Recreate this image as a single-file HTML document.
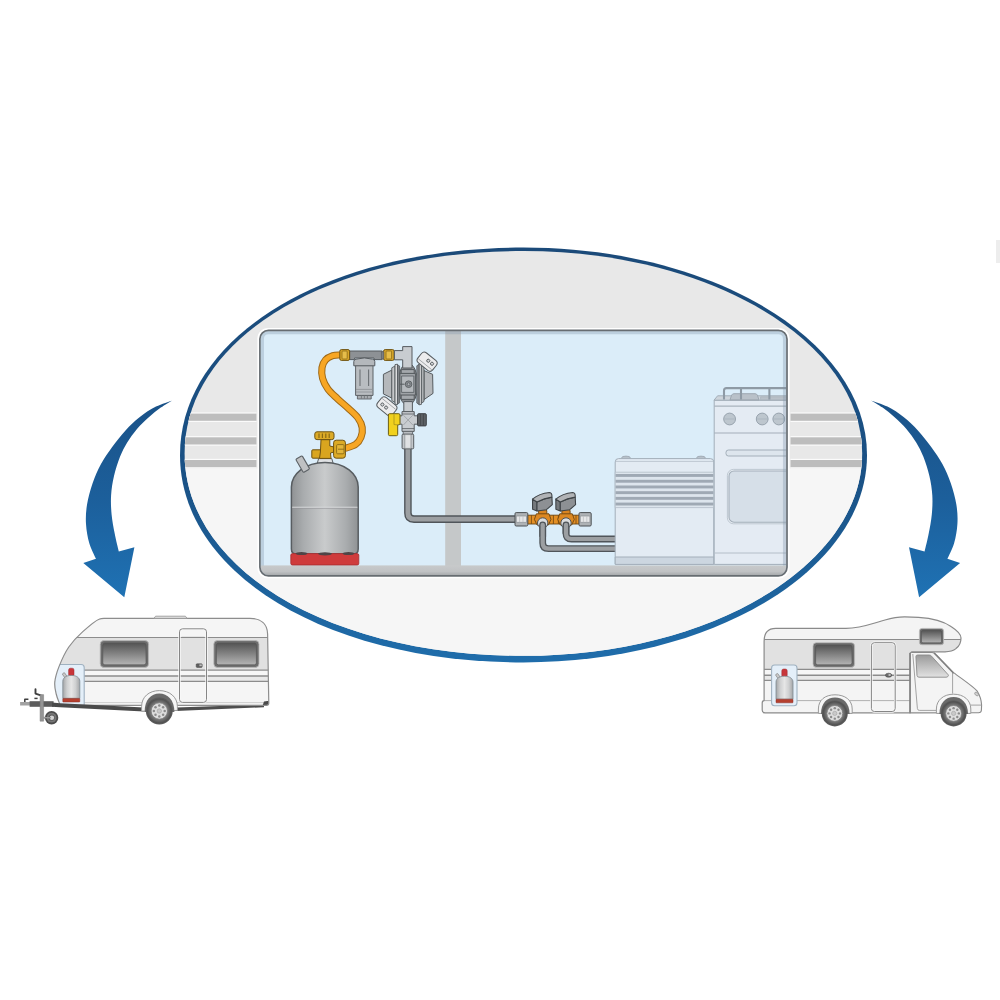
<!DOCTYPE html>
<html>
<head>
<meta charset="utf-8">
<title>Gas installation diagram</title>
<style>
html,body{margin:0;padding:0;background:#ffffff;font-family:"Liberation Sans",sans-serif;}
body{width:1000px;height:1000px;overflow:hidden;}
svg{display:block;}
</style>
</head>
<body>
<svg width="1000" height="1000" viewBox="0 0 1000 1000">
<defs>
  <linearGradient id="gRing" x1="0" y1="0" x2="0" y2="1">
    <stop offset="0" stop-color="#1b4a79"/>
    <stop offset="0.55" stop-color="#1a5185"/>
    <stop offset="1" stop-color="#1f6dab"/>
  </linearGradient>
  <linearGradient id="gArrow" x1="0" y1="0" x2="0" y2="1">
    <stop offset="0" stop-color="#1a5288"/>
    <stop offset="0.5" stop-color="#1c5f9b"/>
    <stop offset="1" stop-color="#1f72b4"/>
  </linearGradient>
  <linearGradient id="gWall" x1="0" y1="0" x2="0" y2="1">
    <stop offset="0" stop-color="#e6e6e6"/>
    <stop offset="0.36" stop-color="#e9e9e9"/>
    <stop offset="0.56" stop-color="#f5f5f5"/>
    <stop offset="1" stop-color="#f8f8f8"/>
  </linearGradient>
  <linearGradient id="gFloor" x1="0" y1="0" x2="0" y2="1">
    <stop offset="0" stop-color="#c8cacb"/>
    <stop offset="0.55" stop-color="#c0c2c4"/>
    <stop offset="1" stop-color="#9fa2a5"/>
  </linearGradient>
  <linearGradient id="gCyl" x1="0" y1="0" x2="1" y2="0">
    <stop offset="0" stop-color="#8f9294"/>
    <stop offset="0.18" stop-color="#a9acae"/>
    <stop offset="0.5" stop-color="#c9cbcc"/>
    <stop offset="0.82" stop-color="#a9acae"/>
    <stop offset="1" stop-color="#8f9294"/>
  </linearGradient>
  <linearGradient id="gCylS" x1="0" y1="0" x2="1" y2="0">
    <stop offset="0" stop-color="#a4a6a8"/>
    <stop offset="0.25" stop-color="#cfd0d1"/>
    <stop offset="0.5" stop-color="#e6e6e6"/>
    <stop offset="0.75" stop-color="#cfd0d1"/>
    <stop offset="1" stop-color="#a4a6a8"/>
  </linearGradient>
  <linearGradient id="gWin" x1="0" y1="0" x2="0" y2="1">
    <stop offset="0" stop-color="#555555"/>
    <stop offset="1" stop-color="#b4b4b4"/>
  </linearGradient>
  <linearGradient id="gCabWin" x1="0" y1="0" x2="0" y2="1">
    <stop offset="0" stop-color="#9a9a9a"/>
    <stop offset="1" stop-color="#e2e2e2"/>
  </linearGradient>
  <radialGradient id="gTyre" cx="0.5" cy="0.5" r="0.5">
    <stop offset="0.55" stop-color="#8a8a8a"/>
    <stop offset="0.8" stop-color="#6a6a6a"/>
    <stop offset="1" stop-color="#4e4e4e"/>
  </radialGradient>
  <clipPath id="clipEll"><path d="M184.60,453.40 C184.60,337.63 329.61,251.00 523.40,251.00 C710.52,251.00 862.20,341.61 862.20,453.40 C862.20,565.19 710.52,655.80 523.40,655.80 C329.61,655.80 184.60,569.17 184.60,453.40 Z"/></clipPath>
  <clipPath id="clipPanel"><rect x="260.7" y="331.1" width="525.5" height="243.9" rx="7.8" ry="7.8"/></clipPath>
</defs>

<!-- faint artefact top right -->
<rect x="996" y="240" width="4" height="23" fill="#ededed"/>

<!-- ===== ELLIPSE ===== -->
<g id="ellipse">
  <path d="M180.00,454.95 C180.00,336.29 327.02,247.50 523.50,247.50 C713.22,247.50 867.00,340.38 867.00,454.95 C867.00,569.52 713.22,662.40 523.50,662.40 C327.02,662.40 180.00,573.61 180.00,454.95 Z" fill="url(#gRing)"/>
  <path d="M184.60,453.40 C184.60,337.63 329.61,251.00 523.40,251.00 C710.52,251.00 862.20,341.61 862.20,453.40 C862.20,565.19 710.52,655.80 523.40,655.80 C329.61,655.80 184.60,569.17 184.60,453.40 Z" fill="#e8e8e8"/>
  <g clip-path="url(#clipEll)">
    <rect x="170" y="468.4" width="710" height="200" fill="#f6f6f6"/>
    <!-- wall stripes -->
    <rect x="170" y="412.4" width="86.5" height="9.6" fill="#fbfbfb"/>
    <rect x="170" y="436.1" width="86.5" height="9.6" fill="#fbfbfb"/>
    <rect x="170" y="458.8" width="86.5" height="9.6" fill="#fbfbfb"/>
    <rect x="170" y="413.6" width="86.5" height="7.2" fill="#bdbdbd"/>
    <rect x="170" y="437.3" width="86.5" height="7.2" fill="#bdbdbd"/>
    <rect x="170" y="460" width="86.5" height="7.2" fill="#bdbdbd"/>
    <rect x="790.5" y="412.4" width="90" height="9.6" fill="#fbfbfb"/>
    <rect x="790.5" y="436.1" width="90" height="9.6" fill="#fbfbfb"/>
    <rect x="790.5" y="458.8" width="90" height="9.6" fill="#fbfbfb"/>
    <rect x="790.5" y="413.6" width="90" height="7.2" fill="#bdbdbd"/>
    <rect x="790.5" y="437.3" width="90" height="7.2" fill="#bdbdbd"/>
    <rect x="790.5" y="460" width="90" height="7.2" fill="#bdbdbd"/>
  </g>
</g>

<!-- ===== PANEL ===== -->
<g id="panel">
  <rect x="257.4" y="327.9" width="532.2" height="250.4" rx="10.6" ry="10.6" fill="#ffffff"/>
  <rect x="259.9" y="330.3" width="527.1" height="245.5" rx="8.6" ry="8.6" fill="#dbedf9"/>
  <g clip-path="url(#clipPanel)">
    <rect x="445.2" y="331" width="15.8" height="236" fill="#c5c8c9"/>
    <rect x="260" y="565.4" width="528" height="11" fill="url(#gFloor)"/>
    <!-- ===== GAS CYLINDER ===== -->
    <g id="cylinder" stroke-linejoin="round">
      <!-- neck -->
      <path d="M317.2,463.5 L318.6,458.6 L331.8,458.6 L333.2,463.5 Z" fill="#dfe1e3" stroke="#5d6266" stroke-width="1"/>
      <!-- body -->
      <path d="M291.4,549 L291.4,487 C291.4,474 305,462.4 325,462.4 C345,462.4 358.2,474 358.2,487 L358.2,549 Q358.2,554 353.2,554 L296.4,554 Q291.4,554 291.4,549 Z" fill="url(#gCyl)" stroke="#585d61" stroke-width="1.5"/>
      <path d="M292.2,507.2 L357.4,507.2" stroke="#dcdee0" stroke-width="1.1" fill="none"/>
      <path d="M292.2,508.3 L357.4,508.3" stroke="#8e9193" stroke-width="0.6" fill="none"/>
      <!-- stub handle (front) -->
      <g transform="rotate(-30 302.7 464.1)">
        <rect x="299" y="456.4" width="7.4" height="15.4" rx="1.2" fill="#bfc1c3" stroke="#5d6266" stroke-width="1.1"/>
      </g>
      <!-- red base -->
      <path d="M290.8,555.2 Q290.8,553.6 292.4,553.6 L357.2,553.6 Q358.8,553.6 358.8,555.2 L358.8,563.4 Q358.8,565 357.2,565 L292.4,565 Q290.8,565 290.8,563.4 Z" fill="#cf3b3c" stroke="#a52c2e" stroke-width="0.8"/>
      <ellipse cx="301.5" cy="553.6" rx="6" ry="1.5" fill="#4f4446"/>
      <ellipse cx="325" cy="553.8" rx="7" ry="1.6" fill="#4f4446"/>
      <ellipse cx="348.5" cy="553.6" rx="6" ry="1.5" fill="#4f4446"/>
    </g>

    <!-- ===== HOSE ===== -->
    <g id="hose" fill="none" stroke-linecap="butt">
      <path d="M340.0,355.0 C338.8,355.1 335.2,354.8 332.8,355.6 C330.4,356.4 327.4,357.8 325.6,359.8 C323.8,361.8 322.5,364.5 322.0,367.6 C321.5,370.7 321.6,374.8 322.6,378.4 C323.6,382.0 325.5,385.8 328.0,389.2 C330.5,392.6 334.2,395.6 337.6,398.8 C341.0,402.0 345.0,405.2 348.4,408.4 C351.8,411.6 355.7,414.8 358.0,418.0 C360.3,421.2 361.7,424.4 362.2,427.6 C362.7,430.8 362.1,434.4 361.0,437.2 C359.9,440.0 358.3,442.5 355.6,444.4 C352.9,446.3 346.8,447.7 345.0,448.4" stroke="#a06a17" stroke-width="7.2"/>
      <path d="M340.0,355.0 C338.8,355.1 335.2,354.8 332.8,355.6 C330.4,356.4 327.4,357.8 325.6,359.8 C323.8,361.8 322.5,364.5 322.0,367.6 C321.5,370.7 321.6,374.8 322.6,378.4 C323.6,382.0 325.5,385.8 328.0,389.2 C330.5,392.6 334.2,395.6 337.6,398.8 C341.0,402.0 345.0,405.2 348.4,408.4 C351.8,411.6 355.7,414.8 358.0,418.0 C360.3,421.2 361.7,424.4 362.2,427.6 C362.7,430.8 362.1,434.4 361.0,437.2 C359.9,440.0 358.3,442.5 355.6,444.4 C352.9,446.3 346.8,447.7 345.0,448.4" stroke="#f7a624" stroke-width="5.2"/>
    </g>

    <!-- ===== CYLINDER VALVE (brass) ===== -->
    <g id="cvalve" stroke="#6f5312" stroke-width="1" stroke-linejoin="round">
      <!-- left outlet -->
      <rect x="311.8" y="449.8" width="11" height="8.4" rx="1" fill="#d9a51f"/>
      <!-- stem -->
      <path d="M321,439.6 L329.8,439.6 L329.8,446 L334,447 L334,452 L330.5,453 L331,458.4 L319.5,458.4 L320.4,452 Z" fill="#d9a51f"/>
      <!-- handwheel -->
      <rect x="314.8" y="431.8" width="19.2" height="7.8" rx="2.2" fill="#dcaa26"/>
      <path d="M319,433.6 L319,438 M322.4,433.6 L322.4,438 M325.8,433.6 L325.8,438 M329.2,433.6 L329.2,438" stroke="#8a6a16" stroke-width="1.2" fill="none"/>
      <!-- nut -->
      <rect x="333.6" y="440.2" width="11.8" height="18" rx="2.6" fill="#dcaa26"/>
      <rect x="336.6" y="444.6" width="7.4" height="9.2" rx="1" fill="#e3b63a" stroke="#8a6a16" stroke-width="0.9"/>
      <path d="M338,449.2 L344,449.2" stroke="#8a6a16" stroke-width="0.9"/>
    </g>

    <!-- ===== FILTER ===== -->
    <g id="filter" stroke-linejoin="round">
      <!-- cup -->
      <path d="M357.4,395 L357.4,399 L371.2,399 L371.2,395 Z" fill="#a9adb1" stroke="#5d6266" stroke-width="0.9"/>
      <rect x="355.6" y="365" width="17.4" height="30.4" fill="#b9bdc1" stroke="#5d6266" stroke-width="1"/>
      <path d="M360,369.5 L360,386 M368.6,369.5 L368.6,386" stroke="#6c7175" stroke-width="1.1" fill="none"/>
      <path d="M356,389.4 L372.6,389.4 M356,392 L372.6,392" stroke="#8b9094" stroke-width="0.8" fill="none"/>
      <path d="M361.4,395.4 L361.4,398.6 M364.4,395.4 L364.4,398.6 M367.4,395.4 L367.4,398.6" stroke="#6c7175" stroke-width="0.8" fill="none"/>
      <!-- head pipe -->
      <path d="M349.6,351 L382.2,351 L382.2,359.6 L374,359.6 L374,358 L354.6,358 L354.6,359.6 L349.6,359.6 Z" fill="#8d9195" stroke="#565b5f" stroke-width="1"/>
      <!-- flange -->
      <path d="M353.8,365.8 L353.8,361.5 Q353.8,359.6 356,359.2 Q364.4,356.6 372.6,359.2 Q374.8,359.6 374.8,361.5 L374.8,365.8 Z" fill="#b4b8bc" stroke="#565b5f" stroke-width="1"/>
      <!-- brass nuts -->
      <g stroke="#6f5312" stroke-width="1">
        <rect x="339.8" y="349.6" width="9.8" height="10.8" rx="1.6" fill="#d9a72a"/>
        <rect x="342" y="351" width="5.2" height="8" rx="0.8" fill="#e6bd4a" stroke="#8a6a16" stroke-width="0.8"/>
        <rect x="383.6" y="349.6" width="10.6" height="10.8" rx="1.6" fill="#d9a72a"/>
        <rect x="386" y="351" width="5.6" height="8" rx="0.8" fill="#e6bd4a" stroke="#8a6a16" stroke-width="0.8"/>
      </g>
      <rect x="381.4" y="351.8" width="2.4" height="7" fill="#7a7f83" stroke="#565b5f" stroke-width="0.6"/>
    </g>
    <!-- ===== STEEL PIPES ===== -->
    <g id="pipes" fill="none" stroke-linejoin="round">
      <path d="M407.9,446 L407.9,513 Q407.9,519.1 414,519.1 L516,519.1" stroke="#50555a" stroke-width="7.6"/>
      <path d="M407.9,446 L407.9,513 Q407.9,519.1 414,519.1 L516,519.1" stroke="#9c9fa2" stroke-width="4.8"/>
      <path d="M542.7,523 L542.7,543 Q542.7,548.7 548.5,548.7 L616,548.7" stroke="#50555a" stroke-width="6.8"/>
      <path d="M542.7,523 L542.7,543 Q542.7,548.7 548.5,548.7 L616,548.7" stroke="#9c9fa2" stroke-width="4.2"/>
      <path d="M566,523 L566,533.4 Q566,539 571.6,539 L616,539" stroke="#50555a" stroke-width="6.8"/>
      <path d="M566,523 L566,533.4 Q566,539 571.6,539 L616,539" stroke="#9c9fa2" stroke-width="4.2"/>
    </g>

    <!-- ===== REGULATOR ===== -->
    <g id="regulator" stroke="#565b5f" stroke-width="1" stroke-linejoin="round">
      <!-- back disc -->
      <ellipse cx="407.9" cy="384.2" rx="10" ry="21" fill="#8b8e92"/>
      <!-- elbow -->
      <path d="M394.4,350.6 L402.7,350.6 L402.7,346.6 L412,346.6 L412,368 L402.7,368 L402.7,359.8 L394.4,359.8 Z" fill="#c8ccd0"/>
      <!-- left wing -->
      <path d="M383.4,374.3 L391.8,370.1 L391.8,398.1 L383.4,393.9 Z" fill="#b5b8bb"/>
      <path d="M391.8,367.8 L395,366 L395,402.4 L391.8,400.6 Z" fill="#c6c8ca" stroke-width="0.9"/>
      <path d="M395,364.6 L397.5,364.2 L397.5,404.6 L395,404.2 Z" fill="#dcdddf" stroke-width="0.9"/>
      <path d="M397.5,364.8 L399.6,366 L399.6,402.8 L397.5,404 Z" fill="#808488" stroke-width="0.8"/>
      <!-- right wing -->
      <path d="M432.6,374.3 L424,370.6 L424,399.6 L433,393.4 Z" fill="#b5b8bb"/>
      <path d="M424,367.4 L421.4,365.4 L421.4,403.2 L424,401.4 Z" fill="#aeb1b4" stroke-width="0.9"/>
      <path d="M421.4,364.2 L419,363.8 L419,404.8 L421.4,404.4 Z" fill="#d6d7d9" stroke-width="0.9"/>
      <path d="M419,364.4 L416.8,365.8 L416.8,403 L419,404.4 Z" fill="#8b8e92" stroke-width="0.8"/>
      <!-- centre block -->
      <rect x="401.2" y="369.6" width="13" height="4.4" fill="#a4a8ac"/>
      <rect x="401.2" y="394.6" width="13" height="4.8" fill="#a4a8ac"/>
      <rect x="399.9" y="373.4" width="15.5" height="21.6" fill="#9fa3a7"/>
      <rect x="401.6" y="376" width="12.2" height="16.4" fill="#b4b8bc" stroke-width="0.8"/>
      <path d="M400,384.2 L404.6,384.2" stroke-width="1" fill="none"/>
      <circle cx="408.6" cy="384.2" r="3.3" fill="#8d9195" stroke-width="0.9"/>
      <circle cx="408.6" cy="384.2" r="1.5" fill="#aeb2b6" stroke-width="0.8"/>
      <!-- tags (front) -->
      <g transform="rotate(39 427.1 361.7)">
        <rect x="417.6" y="355.3" width="19" height="12.8" rx="3.6" fill="#ececed"/>
        <path d="M418.4,365 L435.8,365" fill="none" stroke="#8e9296" stroke-width="0.7"/>
        <circle cx="427.4" cy="360.2" r="1.55" fill="#d3d5d7" stroke-width="0.9"/>
        <circle cx="432.2" cy="360.2" r="1.55" fill="#d3d5d7" stroke-width="0.9"/>
      </g>
      <g transform="rotate(39 386.9 406.4)">
        <rect x="377.4" y="400" width="19" height="12.8" rx="3.6" fill="#ececed"/>
        <path d="M378.2,403.2 L395.6,403.2" fill="none" stroke="#8e9296" stroke-width="0.7"/>
        <circle cx="382.2" cy="407.8" r="1.55" fill="#d3d5d7" stroke-width="0.9"/>
        <circle cx="387" cy="407.8" r="1.55" fill="#d3d5d7" stroke-width="0.9"/>
      </g>
      <!-- outlet pipe -->
      <rect x="403.8" y="401.6" width="8.6" height="10.6" fill="#c8ccd0"/>
      <!-- T piece -->
      <path d="M402,411.6 L414.2,411.6 L414.2,415.8 L417.6,415.8 L417.6,424.2 L414.2,424.2 L414.2,431.4 L402,431.4 L402,424.2 L399.6,424.2 L399.6,415.8 L402,415.8 Z" fill="#c8ccd0"/>
      <path d="M402,414 L414.2,414 M402,428.6 L414.2,428.6" fill="none" stroke-width="0.8"/>
      <path d="M403.4,415.2 L408.1,420 L412.8,415.2 M403.4,425 L408.1,420 L412.8,425" fill="none" stroke="#9a9ea2" stroke-width="0.8"/>
      <!-- dark cap -->
      <rect x="417.6" y="413.7" width="8.7" height="12.2" rx="1" fill="#5c6064" stroke="#3d4145"/>
      <path d="M420.4,414.2 L420.4,425.4 M423.4,414.2 L423.4,425.4" stroke="#3d4145" stroke-width="0.7" fill="none"/>
      <!-- yellow handle -->
      <path d="M389.6,413.7 L398.8,413.7 Q400,413.7 400,415 L400,423.6 Q400,424.8 398.8,424.8 L397.7,424.8 L397.7,434.4 Q397.7,435.7 396.4,435.7 L389.8,435.7 Q388.4,435.7 388.4,434.4 L388.4,415 Q388.4,413.7 389.6,413.7 Z" fill="#f1d11d" stroke="#6d5f12"/>
      <path d="M394,414.4 L394,424.6 L397.4,424.8" fill="none" stroke="#a8931a" stroke-width="0.8"/>
      <!-- lower nut -->
      <rect x="403.2" y="431.4" width="9.4" height="3" fill="#b9bdc1" stroke-width="0.8"/>
      <rect x="402.1" y="434.2" width="11.6" height="14.6" rx="1" fill="#c3c7cb"/>
      <rect x="404.8" y="434.6" width="6.2" height="13.8" fill="#dfe1e3" stroke="#82868a" stroke-width="0.7"/>
    </g>

    <!-- ===== VALVE MANIFOLD ===== -->
    <g id="manifold" stroke-linejoin="round">
      <!-- brass body -->
      <g stroke="#6e4510" stroke-width="0.9">
        <rect x="527.6" y="515.2" width="51.6" height="8.8" fill="#e38f25"/>
        <path d="M553.4,515.2 L553.4,524 M558.4,515.2 L558.4,524 M531.4,515.2 L531.4,524 M576,515.2 L576,524" fill="none" stroke-width="0.8"/>
        <rect x="538.6" y="509.6" width="8.2" height="5.4" rx="1.4" fill="#d98420"/>
        <rect x="561.9" y="509.6" width="8.2" height="5.4" rx="1.4" fill="#d98420"/>
        <path d="M536.4,513.8 L549,513.8 L551,519.4 L548.4,525 L537,525 L534.4,519.4 Z" fill="#dc8822"/>
        <path d="M559.7,513.8 L572.3,513.8 L574.3,519.4 L571.7,525 L560.3,525 L557.7,519.4 Z" fill="#dc8822"/>
      </g>
      <!-- collars -->
      <circle cx="542.7" cy="523" r="5.2" fill="#dadcde" stroke="#4c5155" stroke-width="1"/>
      <circle cx="566" cy="523" r="5.2" fill="#dadcde" stroke="#4c5155" stroke-width="1"/>
      <g stroke="none">
        <circle cx="542.7" cy="524.8" r="3.4" fill="#50555a"/><rect x="539.3" y="524.8" width="6.8" height="12" fill="#50555a"/>
        <circle cx="566" cy="524.8" r="3.4" fill="#50555a"/><rect x="562.6" y="524.8" width="6.8" height="9" fill="#50555a"/>
        <circle cx="542.7" cy="524.8" r="2.1" fill="#9c9fa2"/><rect x="540.6" y="524.8" width="4.2" height="12.4" fill="#9c9fa2"/>
        <circle cx="566" cy="524.8" r="2.1" fill="#9c9fa2"/><rect x="563.9" y="524.8" width="4.2" height="9.4" fill="#9c9fa2"/>
      </g>
      <!-- handles -->
      <g stroke="#3f4448" stroke-width="1.1">
        <path d="M532.50,499.10 L537.00,502.05 L537.00,511.00 L532.60,509.20 Z" fill="#75797d"/>
        <path d="M537.00,502.05 Q544.20,498.00 551.90,497.10 L552.30,504.60 L546.40,509.70 L537.00,511.00 Z" fill="#8d9094"/>
        <path d="M532.50,499.10 Q539.20,493.40 549.40,492.50 Q552.30,492.70 551.90,497.10 Q544.20,498.00 537.00,502.05 Z" fill="#b1b3b6"/>
        <path d="M555.80,499.10 L560.30,502.05 L560.30,511.00 L555.90,509.20 Z" fill="#75797d"/>
        <path d="M560.30,502.05 Q567.50,498.00 575.20,497.10 L575.60,504.60 L569.70,509.70 L560.30,511.00 Z" fill="#8d9094"/>
        <path d="M555.80,499.10 Q562.50,493.40 572.70,492.50 Q575.60,492.70 575.20,497.10 Q567.50,498.00 560.30,502.05 Z" fill="#b1b3b6"/>
      </g>
      <!-- silver nuts -->
      <g stroke="#4c5155" stroke-width="1">
        <rect x="515" y="512.6" width="12.8" height="13.4" rx="1.2" fill="#aeb2b5"/>
        <rect x="516.3" y="516" width="10.2" height="6.4" fill="#e6e7e8" stroke="#8b8f93" stroke-width="0.7"/>
        <path d="M519.6,516.2 L519.6,522.2 M523,516.2 L523,522.2" stroke="#b9bcbf" stroke-width="0.7" fill="none"/>
        <rect x="579" y="512.6" width="12.2" height="13.4" rx="1.2" fill="#aeb2b5"/>
        <rect x="580.3" y="516" width="9.6" height="6.4" fill="#e6e7e8" stroke="#8b8f93" stroke-width="0.7"/>
        <path d="M583.4,516.2 L583.4,522.2 M586.8,516.2 L586.8,522.2" stroke="#b9bcbf" stroke-width="0.7" fill="none"/>
      </g>
    </g>
    <!-- ===== HEATER ===== -->
    <g id="heater" stroke="#a3aeb9" stroke-width="1" stroke-linejoin="round">
      <ellipse cx="626" cy="458" rx="4.4" ry="1.9" fill="#b7c1ca" stroke="#9aa5b0" stroke-width="0.8"/>
      <ellipse cx="701" cy="458" rx="4.4" ry="1.9" fill="#b7c1ca" stroke="#9aa5b0" stroke-width="0.8"/>
      <path d="M615.2,564 L615.2,462 Q615.2,458.6 618.6,458.6 L710.4,458.6 Q713.8,458.6 713.8,462 L713.8,564 Z" fill="#e3ebf3"/>
      <path d="M615.6,461.4 L713.4,461.4" fill="none" stroke="#b9c3cd" stroke-width="0.9"/>
      <rect x="615.2" y="472.2" width="98.6" height="35.4" fill="#dde5ed" stroke="#b4bec8" stroke-width="0.8"/>
      <g fill="#9fa9b4" stroke="none">
        <rect x="615.6" y="474" width="97.8" height="2.9"/>
        <rect x="615.6" y="479.8" width="97.8" height="2.9"/>
        <rect x="615.6" y="485.5" width="97.8" height="2.9"/>
        <rect x="615.6" y="491.2" width="97.8" height="2.9"/>
        <rect x="615.6" y="496.9" width="97.8" height="2.9"/>
        <rect x="615.6" y="502.6" width="97.8" height="2.9"/>
      </g>
      <rect x="615.2" y="557" width="98.6" height="7.4" fill="#ccd6e0"/>
    </g>

    <!-- ===== STOVE ===== -->
    <g id="stove" stroke="#a3aeb9" stroke-width="1" stroke-linejoin="round">
      <!-- body -->
      <path d="M714.2,564.4 L714.2,400.2 L792,400.2 L792,564.4 Z" fill="#e4ebf3"/>
      <!-- top face -->
      <path d="M714,400.2 L717.6,395.8 L792,395.8 L792,400.2 Z" fill="#cdd4db"/>
      <path d="M730,399.9 L731.6,395.2 Q732.2,393.7 734,393.7 L755,393.7 Q756.8,393.7 757.4,395.2 L759,399.9 Z" fill="#b9c1c9" stroke="#98a3ad" stroke-width="0.9"/>
      <rect x="760.6" y="396.8" width="32" height="3" fill="#b9c1c9" stroke="#a3adb7" stroke-width="0.6"/>
      <!-- grate -->
      <path d="M724,399.4 L724,390.6 Q724,388.1 726.6,388.1 L792,388.1 M741,388.4 L741,399.4 M769.4,388.4 L769.4,399.4" fill="none" stroke="#8e9aa5" stroke-width="2.1"/>
      <path d="M714.2,406.2 L792,406.2" fill="none" stroke="#a9b3bd" stroke-width="1.3"/>
      <path d="M714.2,433 L792,433" fill="none" stroke-width="1.1"/>
      <!-- knobs -->
      <g fill="#bdc6ce" stroke="#98a3ae" stroke-width="1">
        <circle cx="729.6" cy="419" r="5.9"/>
        <circle cx="762.2" cy="419" r="5.9"/>
        <circle cx="778.8" cy="419" r="5.9"/>
      </g>
      <path d="M724.6,419 L734.6,419 M757.2,419 L767.2,419 M773.8,419 L783.8,419" fill="none" stroke="#aab4be" stroke-width="0.9"/>
      <!-- handle -->
      <rect x="726" y="450" width="70" height="6" rx="2.4" fill="#dde5ed"/>
      <!-- oven window -->
      <rect x="727.4" y="469.4" width="72" height="54.4" rx="6" fill="#eaf0f6" stroke="#b4bec8" stroke-width="0.8"/>
      <rect x="729" y="471" width="70" height="51.2" rx="5" fill="#d6dfe8" stroke="#a3aeb9" stroke-width="1.1"/>
      <!-- drawer line -->
      <path d="M714.2,553 L792,553" fill="none" stroke="#b4bec8" stroke-width="1"/>
    </g>
    <!--PANEL-CONTENT-->
  </g>
  <path d="M262.3,565.4 L262.3,338.9 Q262.3,332.7 268.5,332.7 L778.4,332.7 Q784.6,332.7 784.6,338.9 L784.6,565.4" fill="none" stroke="#7d93a6" stroke-opacity="0.33" stroke-width="3.3" clip-path="url(#clipPanel)"/>
  <rect x="259.9" y="330.3" width="527.1" height="245.5" rx="8.6" ry="8.6" fill="none" stroke="#676d72" stroke-width="1.7"/>
</g>

<!-- ===== ARROWS ===== -->
<g id="arrows">
  <path id="arrowL" d="M172.3,400.4 C169.6,401.4 161.5,403.8 156.0,406.6 C150.5,409.4 144.6,413.2 139.5,417.2 C134.4,421.2 130.1,425.4 125.5,430.4 C120.9,435.4 116.1,441.6 112.0,447.2 C107.9,452.8 104.2,458.0 101.0,464.0 C97.8,470.0 94.9,476.4 92.6,483.2 C90.3,490.0 88.1,498.0 87.0,504.8 C85.9,511.6 85.6,517.6 86.0,524.0 C86.4,530.4 87.6,537.4 89.3,543.2 C91.0,549.0 94.9,556.2 96.0,558.8 L83.3,562.9 L124.3,597.2 L134.4,547.3 L118.8,551.6 C118.1,548.6 115.9,539.8 114.7,533.6 C113.5,527.4 112.2,520.8 111.6,514.4 C111.0,508.0 110.7,501.6 111.1,495.2 C111.5,488.8 112.5,482.4 114.0,476.0 C115.5,469.6 117.8,462.4 120.0,456.8 C122.2,451.2 124.4,447.0 127.2,442.4 C130.0,437.8 133.2,433.4 136.8,429.2 C140.4,425.0 144.8,420.8 148.8,417.2 C152.8,413.6 156.9,410.4 160.8,407.6 C164.7,404.8 170.4,401.6 172.3,400.4 Z" fill="url(#gArrow)"/>
  <use href="#arrowL" transform="translate(1043.4,0) scale(-1,1)"/>
</g>

<!-- ===== CARAVAN ===== -->
<g id="caravan" stroke-linejoin="round">
  <defs>
    <path id="cvBody" d="M59.7,704 C59.1,702.3 57.0,697.7 56.2,694.0 C55.4,690.3 54.3,686.6 54.8,682.0 C55.3,677.4 56.7,672.4 59.0,666.6 C61.3,660.8 64.8,652.8 68.8,647.0 C72.8,641.2 77.4,636.4 82.8,631.6 C88.2,626.8 95,620.8 99,619.2 Q101,618.3 104,618.3 L250,618.3 C261,618.3 267.4,624 267.6,634 L268.8,703 Q268.8,705.4 266.4,705.4 L62,705.4 Q60.2,705.4 59.7,704 Z"/>
    <clipPath id="cvClip"><use href="#cvBody"/></clipPath>
    <g id="wheel">
      <circle cx="0" cy="0" r="13.4" fill="#5a5a5a"/>
      <circle cx="0" cy="0" r="12.2" fill="url(#gTyre)"/>
      <circle cx="0" cy="0" r="8.2" fill="#dedede" stroke="#7a7a7a" stroke-width="0.8"/>
      <g fill="#8c8c8c">
        <circle cx="0" cy="-5.4" r="1.25"/><circle cx="3.8" cy="-3.8" r="1.25"/><circle cx="5.4" cy="0" r="1.25"/><circle cx="3.8" cy="3.8" r="1.25"/>
        <circle cx="0" cy="5.4" r="1.25"/><circle cx="-3.8" cy="3.8" r="1.25"/><circle cx="-5.4" cy="0" r="1.25"/><circle cx="-3.8" cy="-3.8" r="1.25"/>
      </g>
      <circle cx="0" cy="0" r="2.2" fill="#c9c9c9" stroke="#999" stroke-width="0.5"/>
    </g>
    <g id="minicyl">
      <!-- origin = bottom-left of red base ; width 17 -->
      <rect x="0.6" y="-29.2" width="2.6" height="5" rx="0.5" transform="rotate(-35 1.9 -26.7)" fill="#c9c9c9" stroke="#7d7d7d" stroke-width="0.6"/>
      <rect x="5.8" y="-33.8" width="5.4" height="8" rx="1.8" fill="#c8353a" stroke="#9c2a2e" stroke-width="0.5"/>
      <path d="M0,-3.6 L0,-20.6 C0,-24.4 3.4,-26.6 8.5,-26.6 C13.6,-26.6 17,-24.4 17,-20.6 L17,-3.6 Z" fill="url(#gCylS)" stroke="#7f8a92" stroke-width="0.8"/>
      <rect x="0" y="-3.6" width="17" height="3.6" rx="0.6" fill="#b5402f" stroke="#8c2f25" stroke-width="0.5"/>
    </g>
  </defs>
  <!-- chassis front A-frame -->
  <rect x="20.1" y="702" width="10" height="3.5" fill="#a2a2a2"/>
  <rect x="29.6" y="701.2" width="24" height="5.6" fill="#5c5c5c"/>
  <path d="M24.8,702 L24.8,699.2 L28.4,699.2" fill="none" stroke="#3f3f3f" stroke-width="1.5"/>
  <path d="M35.5,689.2 L35.5,693.6 L40.8,695.4" fill="none" stroke="#3f3f3f" stroke-width="1.9" stroke-linejoin="round" stroke-linecap="round"/>
  <path d="M34.4,698.4 L37.6,698.4" stroke="#3f3f3f" stroke-width="1.5"/>
  <!-- jockey -->
  <rect x="40.1" y="694.6" width="3.5" height="26.6" fill="#949494" stroke="#7a7a7a" stroke-width="0.5"/>
  <path d="M43.4,717.7 L51.6,717.7" stroke="#8a8a8a" stroke-width="1.8"/>
  <circle cx="51.6" cy="717.7" r="6.7" fill="#4c4c4c"/>
  <circle cx="51.6" cy="717.7" r="4.9" fill="#767676"/>
  <circle cx="51.6" cy="717.7" r="3.1" fill="#5a5a5a"/>
  <circle cx="51.9" cy="717.7" r="2.2" fill="#d4d4d4"/>
  <path d="M44,717.7 L51,717.7" stroke="#9a9a9a" stroke-width="1.4"/>
  <!-- rear chassis -->
  <path d="M176,707.6 L264,704.6 L264,707.2 L176,711 Z" fill="#4e4e4e"/>
  <!-- body -->
  <use href="#cvBody" fill="#f5f5f5"/>
  <g clip-path="url(#cvClip)">
    <rect x="50" y="637.5" width="225" height="32.6" fill="#e1e1e1"/>
    <rect x="50" y="670.1" width="225" height="5.6" fill="#f6f6f6"/>
    <rect x="50" y="675.7" width="225" height="5.6" fill="#e8e8e8"/>
    <path d="M50,637.5 L275,637.5" stroke="#8c8c8c" stroke-width="1.2"/>
    <path d="M50,670.1 L275,670.1" stroke="#8c8c8c" stroke-width="1.1"/>
    <path d="M50,675.9 L275,675.9" stroke="#8c8c8c" stroke-width="1.5"/>
    <path d="M50,681.4 L275,681.4" stroke="#8c8c8c" stroke-width="1.1"/>
    <path d="M50,702.6 L275,702.6" stroke="#c4c4c4" stroke-width="0.8"/>
    <!-- gas locker -->
    <path d="M40,664.5 L81.2,664.5 Q84.2,664.5 84.2,667.5 L84.2,706 L40,706 Z" fill="#e4eff9" stroke="#9fb1c0" stroke-width="1.1"/>
    <use href="#minicyl" transform="translate(62.8,702)"/>
    <!-- rear bumper -->
    <path d="M262.6,705.6 L264,701.6 L270,700.6 L270,706 Z" fill="#4a4a4a"/>
  </g>
  <use href="#cvBody" fill="none" stroke="#8d8d8d" stroke-width="1.2"/>
  <path d="M52,702.6 L60,703.3 L144,707.6 L144,711.4 L60,707.2 L52,706.8 Z" fill="#4a4a4a"/>
  <!-- roof vent -->
  <path d="M154,618.3 L155.6,616.2 L185.4,616.2 L187,618.3 Z" fill="#e4e4e4" stroke="#9a9a9a" stroke-width="0.9"/>
  <!-- windows -->
  <g>
    <rect x="100.2" y="640.6" width="48.4" height="26.8" rx="3.6" fill="#6c6c6c" stroke="#bdbdbd" stroke-width="0.8"/>
    <rect x="102.8" y="643.2" width="43.2" height="21.6" rx="2" fill="url(#gWin)" stroke="#4f4f4f" stroke-width="0.6"/>
    <rect x="213.8" y="640.6" width="45.2" height="26.8" rx="3.6" fill="#6c6c6c" stroke="#bdbdbd" stroke-width="0.8"/>
    <rect x="216.4" y="643.2" width="40" height="21.6" rx="2" fill="url(#gWin)" stroke="#4f4f4f" stroke-width="0.6"/>
  </g>
  <!-- door -->
  <rect x="179.5" y="628.8" width="27" height="73.6" rx="3" fill="none" stroke="#f9f9f9" stroke-width="2.4"/>
  <rect x="179.5" y="628.8" width="27" height="73.6" rx="3" fill="none" stroke="#868686" stroke-width="1"/>
  <path d="M181.6,637.4 L204.4,637.4" stroke="#8c8c8c" stroke-width="1.1"/>
  <rect x="196.2" y="663.8" width="6" height="3.6" rx="0.8" fill="#5f5f5f" stroke="#444" stroke-width="0.5"/>
  <rect x="199.4" y="664.4" width="2.4" height="1.8" fill="#bcbcbc"/>
  <!-- wheel arch + wheel -->
  <path d="M141.6,706.4 C141.6,697 149,690.6 159.3,690.6 C169.6,690.6 177.4,697 177.4,706.4 L177.4,710.4 L141.6,711.2 Z" fill="#f6f6f6" stroke="#9a9a9a" stroke-width="1"/>
  <path d="M144.6,712 C144.6,700 151,693.6 159.3,693.6 C167.6,693.6 174.4,700 174.4,712 Z" fill="#6a6a6a"/>
  <use href="#wheel" transform="translate(159.3,711)"/>
</g>

<!-- ===== MOTORHOME ===== -->
<g id="motorhome" stroke-linejoin="round">
  <defs>
    <path id="mhBody" d="M764.1,700.6 L764.1,641.4 Q764.1,628.4 775.8,628.4 L846,628.4 C860,628.4 872,623.6 885,620 C893,617.6 897,616.7 905,616.8 L918.5,617.4 C934,618.4 944,621.6 951,626.5 C957.4,630.6 961,633.6 961,638 C961,642.4 960,645.6 956,648.6 C953,651 950,651.7 945,651.8 L912,651.8 L910,653.2 L910,712.9 L765,712.9 Q762.2,712.9 762.2,710 L762.2,703 Q762.2,700.6 764.1,700.6 Z"/>
    <clipPath id="mhClip"><use href="#mhBody"/></clipPath>
    <path id="mhCab" d="M910,652.5 L932,652.5 Q934.6,652.5 936.2,654.6 L953.6,672.6 C962,679 972,685.6 977,690.8 C980,695.6 981.4,700 981.6,705.1 L981.4,710.2 Q981.2,712.7 978.6,712.7 L910,712.9 Z"/>
  </defs>
  <!-- cab -->
  <use href="#mhCab" fill="#f4f4f4" stroke="#8a8a8a" stroke-width="1.1"/>
  <path d="M915.9,656.6 Q915.9,655 917.5,655 L929,655 Q930.6,655 931.6,656.2 L948.2,674.8 Q948.8,675.8 947.8,676.6 Q947.2,677.2 946,677.2 L919,677.2 Q917.2,677.2 917,675.4 Z" fill="url(#gCabWin)" stroke="#8a8a8a" stroke-width="0.9"/>
  <path d="M912.8,654 L917.4,708.6 Q917.6,710.4 919.4,710.4 L936,710.4" fill="none" stroke="#9a9a9a" stroke-width="0.9"/>
  <path d="M952.6,673 L952.6,693.6" fill="none" stroke="#9a9a9a" stroke-width="0.9"/>
  <path d="M934,653 L953.6,673.4" fill="none" stroke="#7e7e7e" stroke-width="1.3"/>
  <path d="M970.5,705.1 L981.6,705.1" stroke="#9a9a9a" stroke-width="0.9"/>
  <ellipse cx="976.6" cy="694" rx="2.2" ry="1.5" transform="rotate(40 976.6 694)" fill="#cfcfcf" stroke="#8a8a8a" stroke-width="0.6"/>
  <!-- body -->
  <use href="#mhBody" fill="#f4f4f4"/>
  <g clip-path="url(#mhClip)">
    <rect x="760" y="639.5" width="205" height="30" fill="#e1e1e1"/>
    <rect x="760" y="669.4" width="150" height="5.8" fill="#f6f6f6"/>
    <rect x="760" y="675.2" width="150" height="5.2" fill="#e8e8e8"/>
    <path d="M760,639.5 L965,639.5" stroke="#8c8c8c" stroke-width="1.1"/>
    <path d="M760,669.4 L910,669.4" stroke="#8c8c8c" stroke-width="1.1"/>
    <path d="M760,675.2 L910,675.2" stroke="#8c8c8c" stroke-width="1.5"/>
    <path d="M760,680.4 L910,680.4" stroke="#8c8c8c" stroke-width="1.1"/>
    <path d="M760,700.6 L910,700.6" stroke="#a9a9a9" stroke-width="0.9"/>
  </g>
  <use href="#mhBody" fill="none" stroke="#8a8a8a" stroke-width="1.2"/>
  <path d="M910,653 L910,712.6" stroke="#7e7e7e" stroke-width="1.3"/>
  <!-- gas locker -->
  <rect x="771.6" y="665" width="25.4" height="40.8" rx="3" fill="#e4eff9" stroke="#9fb1c0" stroke-width="1.1"/>
  <use href="#minicyl" transform="translate(776,702.8)"/>
  <!-- windows -->
  <rect x="813" y="642.7" width="41.6" height="24.6" rx="3.4" fill="#6c6c6c" stroke="#bdbdbd" stroke-width="0.8"/>
  <rect x="815.6" y="645.2" width="36.4" height="19.6" rx="2" fill="url(#gWin)" stroke="#4f4f4f" stroke-width="0.6"/>
  <rect x="919.4" y="628.4" width="24.2" height="16.4" rx="2.6" fill="#6c6c6c" stroke="#bdbdbd" stroke-width="0.8"/>
  <rect x="921.4" y="630.4" width="20.2" height="12.4" rx="1.6" fill="url(#gWin)" stroke="#4f4f4f" stroke-width="0.6"/>
  <!-- door -->
  <rect x="871.4" y="642.7" width="23.8" height="68.8" rx="3" fill="none" stroke="#f9f9f9" stroke-width="2.4"/>
  <rect x="871.4" y="642.7" width="23.8" height="68.8" rx="3" fill="none" stroke="#868686" stroke-width="1"/>
  <ellipse cx="888.6" cy="675.2" rx="3.2" ry="2" fill="#6a6a6a" stroke="#444" stroke-width="0.5"/>
  <ellipse cx="889.6" cy="675" rx="1.3" ry="0.9" fill="#c4c4c4"/>
  <!-- wheel arches + wheels -->
  <path d="M818.4,713.4 L818.4,709 C818.4,700 825,694.8 835,694.8 C845,694.8 852.2,700 852.2,709 L852.2,713.4 Z" fill="#f6f6f6" stroke="#9a9a9a" stroke-width="1"/>
  <path d="M821,714 C821,703 827,697.6 835,697.6 C843,697.6 849.6,703 849.6,714 Z" fill="#6a6a6a"/>
  <use href="#wheel" transform="translate(834.8,713.4) scale(0.97)"/>
  <path d="M936.4,713.4 L936.4,709 C936.4,700 943.6,694.2 953.6,694.2 C963.6,694.2 970.8,700 970.8,709 L970.8,713.4 Z" fill="#f6f6f6" stroke="#9a9a9a" stroke-width="1"/>
  <path d="M939.4,714 C939.4,703 945.6,697 953.6,697 C961.6,697 968,703 968,714 Z" fill="#6a6a6a"/>
  <use href="#wheel" transform="translate(953.6,713.4) scale(0.97)"/>
</g>

</svg>
</body>
</html>
